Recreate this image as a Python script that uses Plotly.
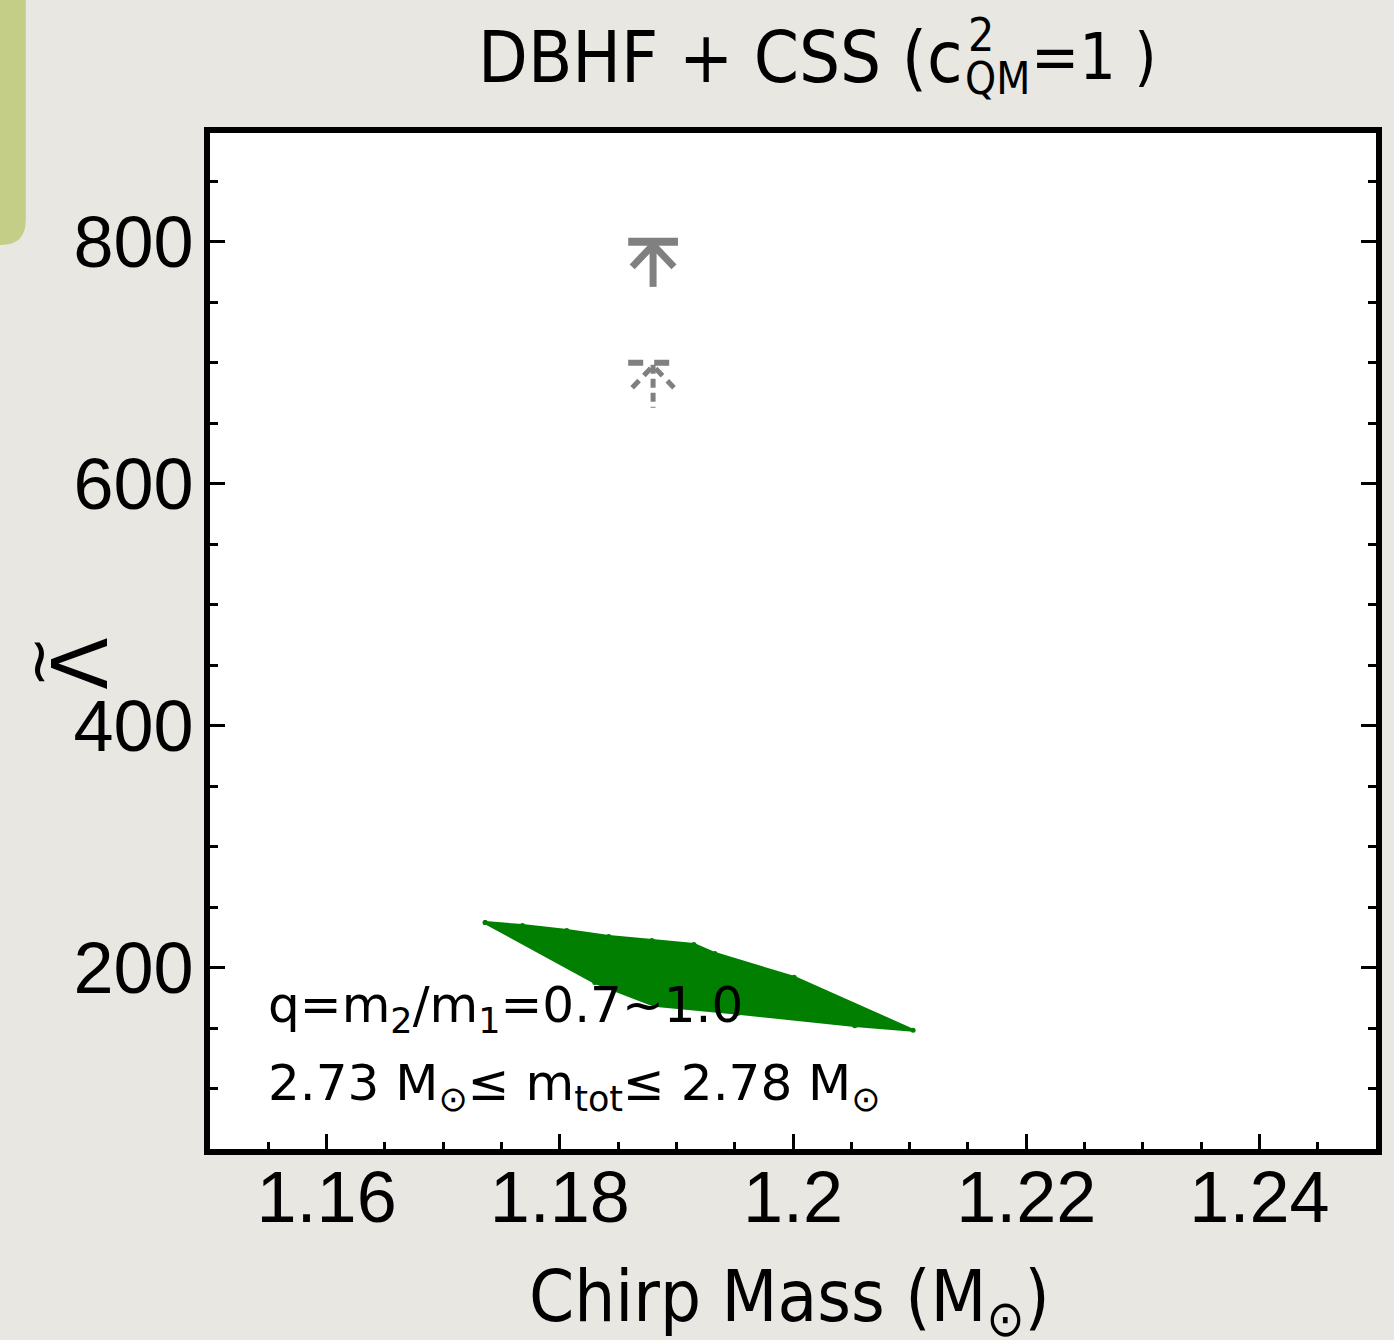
import plotly.graph_objects as go

# ---------------- data ----------------
# allowed region (chirp mass vs tidal deformability), boundary traced clockwise
region_chirp = [1.1736, 1.1768, 1.1806, 1.1842, 1.1879, 1.1915, 1.1933, 1.2001, 1.2103,
                1.2053, 1.1953, 1.1881, 1.1830, 1.1736]
region_lambda = [237.2, 234.7, 230.6, 225.7, 222.4, 219.1, 211.6, 191.9, 148.1,
                 152.0, 162.2, 168.8, 187.7, 237.2]

# upper limits on Lambda-tilde (solid: 90%, dashed: 50%)
limit_chirp = [1.188, 1.188]
limit_lambda = [800, 700]
limit_style = ["solid", "dash"]

x_ticks = [1.16, 1.18, 1.2, 1.22, 1.24]
x_ticklabels = ["1.16", "1.18", "1.2", "1.22", "1.24"]
y_ticks = [200, 400, 600, 800]
y_ticklabels = ["200", "400", "600", "800"]

# ---------------- layout constants ----------------
W, H = 1394, 1340
L, R, T, B = 210, 13, 133, 191
PW, PH = W - L - R, H - T - B
XR = [1.15, 1.25]
YR = [50, 890]
px_per_x = PW / (XR[1] - XR[0])
px_per_y = PH / (YR[1] - YR[0])


def xp(px):
    return (px - L) / PW


def yp(py):
    return (H - B - py) / PH


TICKFONT = "Liberation Sans, Arial, sans-serif"
TITLEFONT = "Liberation Sans Narrow, DejaVu Sans Condensed, Roboto Condensed, Liberation Sans, sans-serif"
TEXTFONT = "DejaVu Sans, Noto Sans, sans-serif"
GREEN = "#007f00"
GREY = "#808080"

fig = go.Figure()

# allowed region
fig.add_trace(go.Scatter(
    x=region_chirp, y=region_lambda, mode="lines+markers", fill="toself",
    fillcolor=GREEN, line=dict(color=GREEN, width=3),
    marker=dict(color=GREEN, size=5), hoverinfo="skip", showlegend=False))

# upper-limit arrows
bar_half = 25 / px_per_x
shaft = 45 / px_per_y
wing_dx = 21 / px_per_x
wing_dy = 22 / px_per_y
for cx, lam, st in zip(limit_chirp, limit_lambda, limit_style):
    solid = st == "solid"
    w = 7 if solid else 5
    fig.add_trace(go.Scatter(x=[cx - bar_half, cx + bar_half], y=[lam, lam], mode="lines",
                             line=dict(color=GREY, width=w + 1, dash="solid" if solid else "15px,11px"),
                             hoverinfo="skip", showlegend=False))
    fig.add_trace(go.Scatter(x=[cx, cx], y=[lam - 2 / px_per_y, lam - shaft], mode="lines",
                             line=dict(color=GREY, width=w, dash="solid" if solid else "9px,5px"),
                             hoverinfo="skip", showlegend=False))
    fig.add_trace(go.Scatter(x=[cx - wing_dx, cx, cx + wing_dx],
                             y=[lam - 3 / px_per_y - wing_dy, lam - 3 / px_per_y, lam - 3 / px_per_y - wing_dy],
                             mode="lines",
                             line=dict(color=GREY, width=w, dash="solid" if solid else "10px,7px"),
                             hoverinfo="skip", showlegend=False))

axis_common = dict(showgrid=False, zeroline=False, showline=True, linecolor="black",
                   linewidth=6, ticks="inside", tickcolor="black", tickwidth=3,
                   ticklen=15, tickfont=dict(family=TICKFONT, size=72, color="black"))

fig.update_xaxes(range=XR, tickvals=x_ticks, ticktext=x_ticklabels, mirror=True,
                 minor=dict(dtick=0.005, tick0=1.15, ticklen=7, tickwidth=3, tickcolor="black",
                            ticks="inside"),
                 ticklabelstandoff=-19, **axis_common)
fig.update_yaxes(range=YR, tickvals=y_ticks, ticktext=y_ticklabels, mirror="ticks",
                 minor=dict(dtick=50, tick0=50, ticklen=8, tickwidth=3, tickcolor="black",
                            ticks="inside"),
                 ticklabelstandoff=-4, **axis_common)

annotations = [
    # title pieces
    dict(x=xp(968), y=yp(57), text="DBHF + CSS (c", xanchor="right", yanchor="middle",
         font=dict(family=TITLEFONT, size=72, color="black")),
    dict(x=xp(969), y=yp(35), text="2", xanchor="left", yanchor="middle",
         font=dict(family=TITLEFONT, size=46, color="black")),
    dict(x=xp(966), y=yp(78), text="QM", xanchor="left", yanchor="middle",
         font=dict(family=TITLEFONT, size=44, color="black")),
    dict(x=xp(1033), y=yp(57), text="=1 )", xanchor="left", yanchor="middle",
         font=dict(family=TITLEFONT, size=64, color="black")),
    # axis titles
    dict(x=xp(792), y=yp(1301), text="Chirp Mass (M<sub>⊙</sub>)", xanchor="center",
         yanchor="middle", font=dict(family=TITLEFONT, size=72, color="black")),
    dict(x=xp(79), y=yp(664), text="Λ", textangle=-90, xanchor="center", yanchor="middle",
         font=dict(family=TEXTFONT, size=76, color="black")),
    dict(x=xp(36), y=yp(662), text="~", textangle=-90, xanchor="center", yanchor="middle",
         font=dict(family=TEXTFONT, size=62, color="black")),
    # in-plot notes
    dict(x=xp(266), y=yp(1008), text="q=m<sub>2</sub>/m<sub>1</sub>=0.7~1.0",
         xanchor="left", yanchor="middle", font=dict(family=TEXTFONT, size=50, color="black")),
    dict(x=xp(266), y=yp(1086), text="2.73 M<sub>⊙</sub>≤ m<sub>tot</sub>≤ 2.78 M<sub>⊙</sub>",
         xanchor="left", yanchor="middle", font=dict(family=TEXTFONT, size=50, color="black")),
]
for a in annotations:
    a.update(xref="paper", yref="paper", showarrow=False)

# green tab at top-left of the slide
x0, x1 = xp(-5), xp(25)
yt, yb = yp(-5), yp(245)
yc = yp(220)
xc = xp(0)
tab_path = (f"M {x0},{yt} L {x1},{yt} L {x1},{yc} Q {x1},{yb} {xc},{yb} L {x0},{yb} Z")

fig.update_layout(
    width=W, height=H, margin=dict(l=L, r=R, t=T, b=B, pad=0),
    paper_bgcolor="#e8e7e2", plot_bgcolor="white",
    annotations=annotations,
    shapes=[dict(type="path", path=tab_path, xref="paper", yref="paper",
                 fillcolor="#c5ce87", line=dict(width=0), layer="below")],
    showlegend=False,
)

fig.write_html("out.html", config={"displayModeBar": False},
               post_script="document.body.style.margin='0';")
